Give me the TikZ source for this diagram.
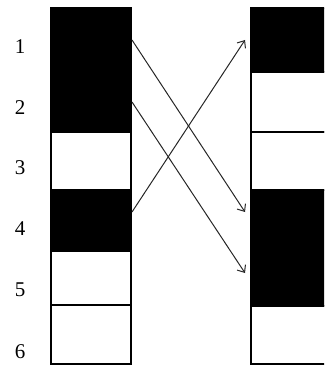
\documentclass[tikz,border=0pt]{standalone}
\usepackage{fontspec}
\setmainfont{Liberation Serif}
\usetikzlibrary{arrows.meta}
\begin{document}
\begin{tikzpicture}[x=1pt,y=-1pt,
  cell/.style={draw=black,line width=1.6pt,inner sep=0pt,outer sep=0pt,anchor=north west,minimum width=80pt},
  blk/.style={cell,fill=black},
  wht/.style={cell,fill=white},
  lbl/.style={font=\fontsize{21}{21}\selectfont,inner sep=0pt},
  arr/.style={line width=1pt,draw=black!85,-{Straight Barb[length=6pt,width=10pt,line width=1pt]}}]
\useasboundingbox (0,0) rectangle (324,366);
\clip (0,0) rectangle (324,366);
% left column
\node[blk,minimum height=124pt] (L1) at (51,8) {};
\node[wht,minimum height=58pt] (L2) at (51,132) {};
\node[blk,minimum height=61pt] (L3) at (51,190) {};
\node[wht,minimum height=54pt] (L4) at (51,251) {};
\node[wht,minimum height=59pt] (L5) at (51,305) {};
% right column
\node[blk,minimum height=64pt,minimum width=90pt] (R1) at (251,8) {};
\node[wht,minimum height=60pt,minimum width=90pt] (R2) at (251,72) {};
\node[wht,minimum height=58pt,minimum width=90pt] (R3) at (251,132) {};
\node[blk,minimum height=116pt,minimum width=90pt] (R4) at (251,190) {};
\node[wht,minimum height=58pt,minimum width=90pt] (R5) at (251,306) {};
% labels
\node[lbl] (n1) at (20,47) {1};
\node[lbl] (n2) at (20,108) {2};
\node[lbl] (n3) at (20,168) {3};
\node[lbl] (n4) at (20,229) {4};
\node[lbl] (n5) at (20,290) {5};
\node[lbl] (n6) at (20,352) {6};
% arrow ends
\coordinate (a1) at (132,40);
\coordinate (a2) at (132,102);
\coordinate (a3) at (132,212);
\coordinate (b1) at (245,212);
\coordinate (b2) at (245,273);
\coordinate (b3) at (245,40);
\draw[arr] (a1) -- (b1);
\draw[arr] (a2) -- (b2);
\draw[arr] (a3) -- (b3);
\end{tikzpicture}
\end{document}
